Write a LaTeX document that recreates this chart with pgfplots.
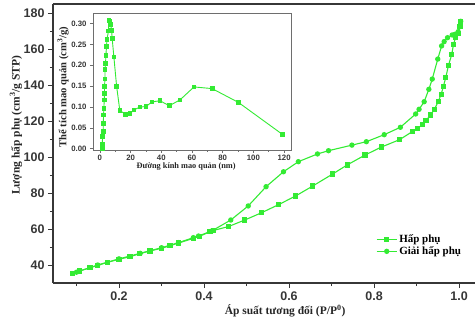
\documentclass[border=0pt]{standalone}
\usepackage{fontspec}
\setmainfont{Liberation Serif}
\setsansfont{Liberation Sans}
\usepackage{pgfplots}
\pgfplotsset{compat=1.18}
\definecolor{lime}{RGB}{51,235,51}
\definecolor{axgray}{RGB}{55,55,55}
\definecolor{inset}{RGB}{110,110,110}
\begin{document}
\begin{tikzpicture}
\path[use as bounding box] (-53pt,-39pt) rectangle (422pt,283pt);
\begin{axis}[at={(0pt,0pt)}, anchor=south west, scale only axis, width=422pt, height=279pt,
 xmin=0.0447, xmax=1.0376, ymin=30, ymax=185,
 axis x line*=bottom, axis y line*=left,
 axis line style={-, line width=1.1pt, color=axgray},
 tick align=outside, major tick length=5pt, minor tick length=3pt,
 tick style={color=axgray, line width=0.9pt},
 xtick={0.2,0.4,0.6,0.8,1.0}, ytick={40,60,80,100,120,140,160,180},
 minor xtick={0.1,0.3,0.5,0.7,0.9}, minor ytick={50,70,90,110,130,150,170},
 xticklabel style={/pgf/number format/.cd, fixed, fixed zerofill, precision=1},
 tick label style={font=\fontsize{12.5}{13}\selectfont\sffamily\bfseries, color=axgray},
 /pgf/number format/assume math mode=true,
 xlabel={Áp suất tương đối (P/P\textsuperscript{0})},
 ylabel={Lượng hấp phụ (cm\textsuperscript{3}/g STP)},
 label style={font=\fontsize{11.5}{12}\selectfont\bfseries, color=black!85},
 x label style={at={(rel axis cs:0.55,0)}, anchor=center, yshift=-28pt},
 y label style={at={(rel axis cs:0,0.566)}, anchor=center, yshift=37pt},
 legend style={at={(rel axis cs:0.763,0.185)}, anchor=north west, draw=none, fill=none,
   font=\fontsize{11}{12}\selectfont\bfseries, row sep=-1.5pt, inner sep=1pt},
 legend cell align=left,
 legend image code/.code={\draw[mark repeat=2,mark phase=2,#1] plot coordinates {(0pt,0pt) (10pt,0pt) (20pt,0pt)};},
 extra description/.code={\draw[axgray, line width=1.1pt] (rel axis cs:0,1) -- (rel axis cs:1,1);},
]
\addplot[color=lime, line width=1.1pt, mark=square*, mark size=2.1pt, mark options={solid}] coordinates {
(0.090,35.2) (0.107,36.7) (0.132,38.5) (0.150,39.8) (0.173,41.5) (0.200,43.2) (0.226,44.6) (0.249,46.3)
(0.273,47.8) (0.300,49.3) (0.320,50.7) (0.340,52.2) (0.375,54.8) (0.389,55.9) (0.414,58.5) (0.422,59.2)
(0.457,61.3) (0.496,65.0) (0.536,69.1) (0.576,73.6) (0.616,78.4) (0.656,83.9) (0.703,90.6) (0.737,95.6)
(0.779,101.1) (0.818,105.6) (0.860,109.6) (0.890,114.1) (0.903,116.0) (0.914,118.0) (0.922,120.2)
(0.933,123.3) (0.942,126.5) (0.951,130.7) (0.958,134.8) (0.963,139.1) (0.969,144.3) (0.975,150.7)
(0.983,157.1) (0.987,162.6) (0.992,166.3) (0.998,168.7) (1.002,172.4) (1.004,175.4)};
\addlegendentry{Hấp phụ}
\addplot[color=lime, line width=1.1pt, mark=*, mark size=2.1pt] coordinates {
(1.004,175.4) (1.002,172.4) (0.998,169.6) (0.991,168.2) (0.984,167.8) (0.973,166.3) (0.965,164.1)
(0.959,161.7) (0.950,154.4) (0.937,143.3) (0.929,137.6) (0.918,130.7) (0.906,126.5) (0.898,123.9)
(0.862,116.5) (0.824,112.4) (0.782,108.5) (0.748,106.6) (0.693,103.5) (0.667,101.7) (0.622,97.4)
(0.587,91.8) (0.546,83.5) (0.504,72.8) (0.463,65.0) (0.418,58.9) (0.387,56.1) (0.375,55.2)
(0.340,52.4) (0.300,49.6) (0.250,46.5) (0.200,43.4) (0.150,40.0) (0.100,36.0)};
\addlegendentry{Giải hấp phụ}
\end{axis}
\begin{axis}[at={(40pt,133pt)}, anchor=south west, scale only axis, width=198pt, height=137pt,
 xmin=-4.5, xmax=124.5, ymin=-0.003, ymax=0.325,
 axis background/.style={fill=white},
 axis line style={line width=0.8pt, color=inset},
 tick align=outside, major tick length=3pt, minor tick length=2pt,
 tick style={color=inset, line width=0.6pt},
 xtick={0,20,40,60,80,100,120}, ytick={0,0.05,0.10,0.15,0.20,0.25,0.30},
 minor xtick={10,30,50,70,90,110},
 xtick pos=bottom, ytick pos=left,
 xticklabel style={yshift=1pt},
 yticklabel style={/pgf/number format/.cd, fixed, fixed zerofill, precision=2},
 tick label style={font=\fontsize{7.8}{8}\selectfont\sffamily\bfseries, color=axgray},
 /pgf/number format/assume math mode=true,
 scaled y ticks=false,
 xlabel={Đường kính mao quản (nm)},
 ylabel={Thể tích mao quản (cm\textsuperscript{3}/g)},
 label style={font=\fontsize{8.3}{9}\selectfont\bfseries, color=black!85},
 x label style={at={(rel axis cs:0.47,0)}, anchor=center, yshift=-17pt},
 y label style={at={(rel axis cs:0,0.46)}, anchor=center, yshift=30pt, font=\fontsize{10.6}{11}\selectfont\bfseries},
]
\addplot[color=lime, line width=0.9pt, mark=square*, mark size=1.9pt] coordinates {
(1.5,0.000) (1.6,0.010) (1.7,0.029) (2.2,0.041) (2.2,0.061) (2.4,0.081) (2.6,0.097) (2.8,0.117)
(3.0,0.133) (3.0,0.149) (3.3,0.167) (3.3,0.189) (3.7,0.205) (3.9,0.224) (4.3,0.244) (4.6,0.262)
(5.6,0.282) (5.9,0.308) (6.5,0.306) (7.0,0.298) (7.6,0.284) (8.0,0.264) (9.1,0.220) (10.9,0.149)
(13.0,0.091) (16.8,0.083) (19.6,0.084) (22.2,0.093) (26.1,0.100) (30.0,0.101) (33.9,0.112)
(39.1,0.115) (45.2,0.103) (52.2,0.117) (61.3,0.148) (73.1,0.144) (90.2,0.111) (118.7,0.035)};
\end{axis}
\end{tikzpicture}
\end{document}
